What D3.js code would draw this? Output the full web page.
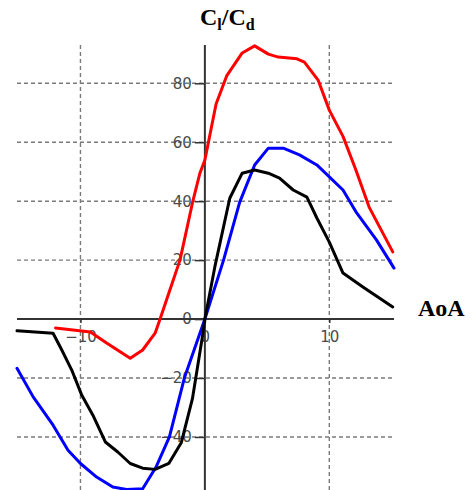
<!DOCTYPE html>
<html>
<head>
<meta charset="utf-8">
<script src="https://cdn.jsdelivr.net/npm/d3@7"></script>
<style>
  html, body { margin: 0; padding: 0; background: #fff; }
  svg { display: block; }
</style>
</head>
<body>
<svg id="chart" width="472" height="490"></svg>
<script>
// ---- data ----
const redAoA   = [-12.0, -9.2, -7.9, -6.0, -5.0, -4.0, -3.6, -2.8, -2.0, -1.0, -0.4, 0, 0.9, 1.75, 3.0, 4.0, 5.1, 5.9, 7.4, 8.0, 9.1, 10.0, 11.1, 12.1, 13.2, 15.1];
const redClCd  = [-3.0, -4.4, -8.1, -13.3, -10.5, -4.8, 0, 10, 20, 39.4, 49.5, 54, 73, 82.5, 90.3, 92.7, 89.9, 88.9, 88.3, 87.2, 81.1, 70.9, 62.0, 51, 38, 22.8];

const blueAoA  = [-15.1, -13.8, -12.2, -11.0, -10.0, -8.7, -7.4, -6.3, -5.0, -3.9, -2.85, -1.65, 0, 1.5, 2.8, 4.0, 5.1, 6.3, 7.6, 9.0, 11.1, 12.2, 13.8, 15.2];
const blueClCd = [-16.7, -26.4, -36, -44.5, -49, -53.6, -57, -57.8, -57.6, -50, -40, -20, 0, 20, 39.7, 52.3, 58, 58, 55.7, 52.3, 43.8, 36, 26.8, 17.3];

const blackAoA  = [-15.1, -12.2, -11.5, -10.7, -9.9, -9.0, -8.0, -7.0, -6.0, -5.0, -4.0, -2.9, -1.9, -1.0, -0.2, 0, 0.8, 2.0, 3.0, 4.0, 5.1, 6.0, 7.1, 8.2, 9.0, 10.0, 11.1, 12.7, 15.1];
const blackClCd = [-4.0, -4.8, -10.5, -17.3, -25.8, -32.6, -41.7, -45.1, -49, -50.6, -51, -49, -42, -27, -6, 0, 17.7, 41, 49.5, 50.6, 49.5, 47.8, 43.8, 41.4, 34.3, 26.1, 15.6, 10.9, 4.1];

const xTicks = [-10, 0, 10];
const yTicks = [-40, -20, 0, 20, 40, 60, 80];
const xGrid = [-10, 10];
const yGrid = [-40, -20, 20, 40, 60, 80];

const series = [
  {name: "red",   x: redAoA,   y: redClCd,   color: "#ff0000"},
  {name: "blue",  x: blueAoA,  y: blueClCd,  color: "#0000ff"},
  {name: "black", x: blackAoA, y: blackClCd, color: "#000000"}
];

// ---- scales ----
const svg = d3.select("#chart");
const x = d3.scaleLinear().domain([-15.1, 15.2]).range([17, 394]);
const y = d3.scaleLinear().domain([-58, 93]).range([490, 45]);

// ---- grid ----
const grid = svg.append("g").attr("stroke", "#7a7a7a").attr("stroke-width", 1.4).attr("stroke-dasharray", "4,3");
grid.selectAll("line.h").data(yGrid).join("line").attr("class", "h")
  .attr("x1", x.range()[0]).attr("x2", x.range()[1])
  .attr("y1", d => y(d)).attr("y2", d => y(d));
grid.selectAll("line.v").data(xGrid).join("line").attr("class", "v")
  .attr("y1", y.range()[1]).attr("y2", y.range()[0])
  .attr("x1", d => x(d)).attr("x2", d => x(d));

// ---- axes ----
const labelColor = "#4a4a4a";
const yAxis = svg.append("g").attr("transform", `translate(${x(0)},0)`)
  .call(d3.axisLeft(y).tickValues(yTicks).tickSize(10).tickPadding(3).tickFormat(d3.format("d")));
yAxis.select(".domain").remove();
yAxis.selectAll(".tick line").attr("stroke", "#333").attr("stroke-width", 1.5);
yAxis.selectAll(".tick text").attr("fill", labelColor).style("font-family", "DejaVu Sans").style("font-size", "15px");

const xAxis = svg.append("g").attr("transform", `translate(0,${y(0)})`)
  .call(d3.axisBottom(x).tickValues(xTicks).tickSize(4).tickPadding(8).tickFormat(d3.format("d")));
xAxis.select(".domain").remove();
xAxis.selectAll(".tick line").attr("stroke", "#333").attr("stroke-width", 1.5);
xAxis.selectAll(".tick text").attr("fill", labelColor).style("font-family", "DejaVu Sans").style("font-size", "15px");

// main axis lines
svg.append("line").attr("x1", x.range()[0]).attr("x2", x.range()[1])
  .attr("y1", y(0)).attr("y2", y(0)).attr("stroke", "#333").attr("stroke-width", 2);
svg.append("line").attr("x1", x(0)).attr("x2", x(0))
  .attr("y1", y.range()[1]).attr("y2", y.range()[0]).attr("stroke", "#333").attr("stroke-width", 2);

// ---- curves ----
const line = d3.line().x(d => x(d[0])).y(d => y(d[1]));
svg.append("g").selectAll("path").data(series).join("path")
  .attr("fill", "none")
  .attr("stroke", d => d.color)
  .attr("stroke-width", 3)
  .attr("stroke-linejoin", "round")
  .attr("stroke-linecap", "round")
  .attr("d", d => line(d.x.map((v, i) => [v, d.y[i]])));

// ---- axis titles ----
const title = svg.append("text").attr("x", 200).attr("y", 25)
  .style("font-family", "Liberation Serif").style("font-weight", "bold").style("font-size", "24px").attr("fill", "#000");
title.append("tspan").text("C");
title.append("tspan").text("l").style("font-size", "16px").attr("dy", 5);
title.append("tspan").text("/").attr("dy", -5);
title.append("tspan").text("C");
title.append("tspan").text("d").style("font-size", "16px").attr("dy", 5);

svg.append("text").attr("x", 418).attr("y", 316)
  .style("font-family", "Liberation Serif").style("font-weight", "bold").style("font-size", "24px")
  .attr("fill", "#000").text("AoA");
</script>
</body>
</html>
